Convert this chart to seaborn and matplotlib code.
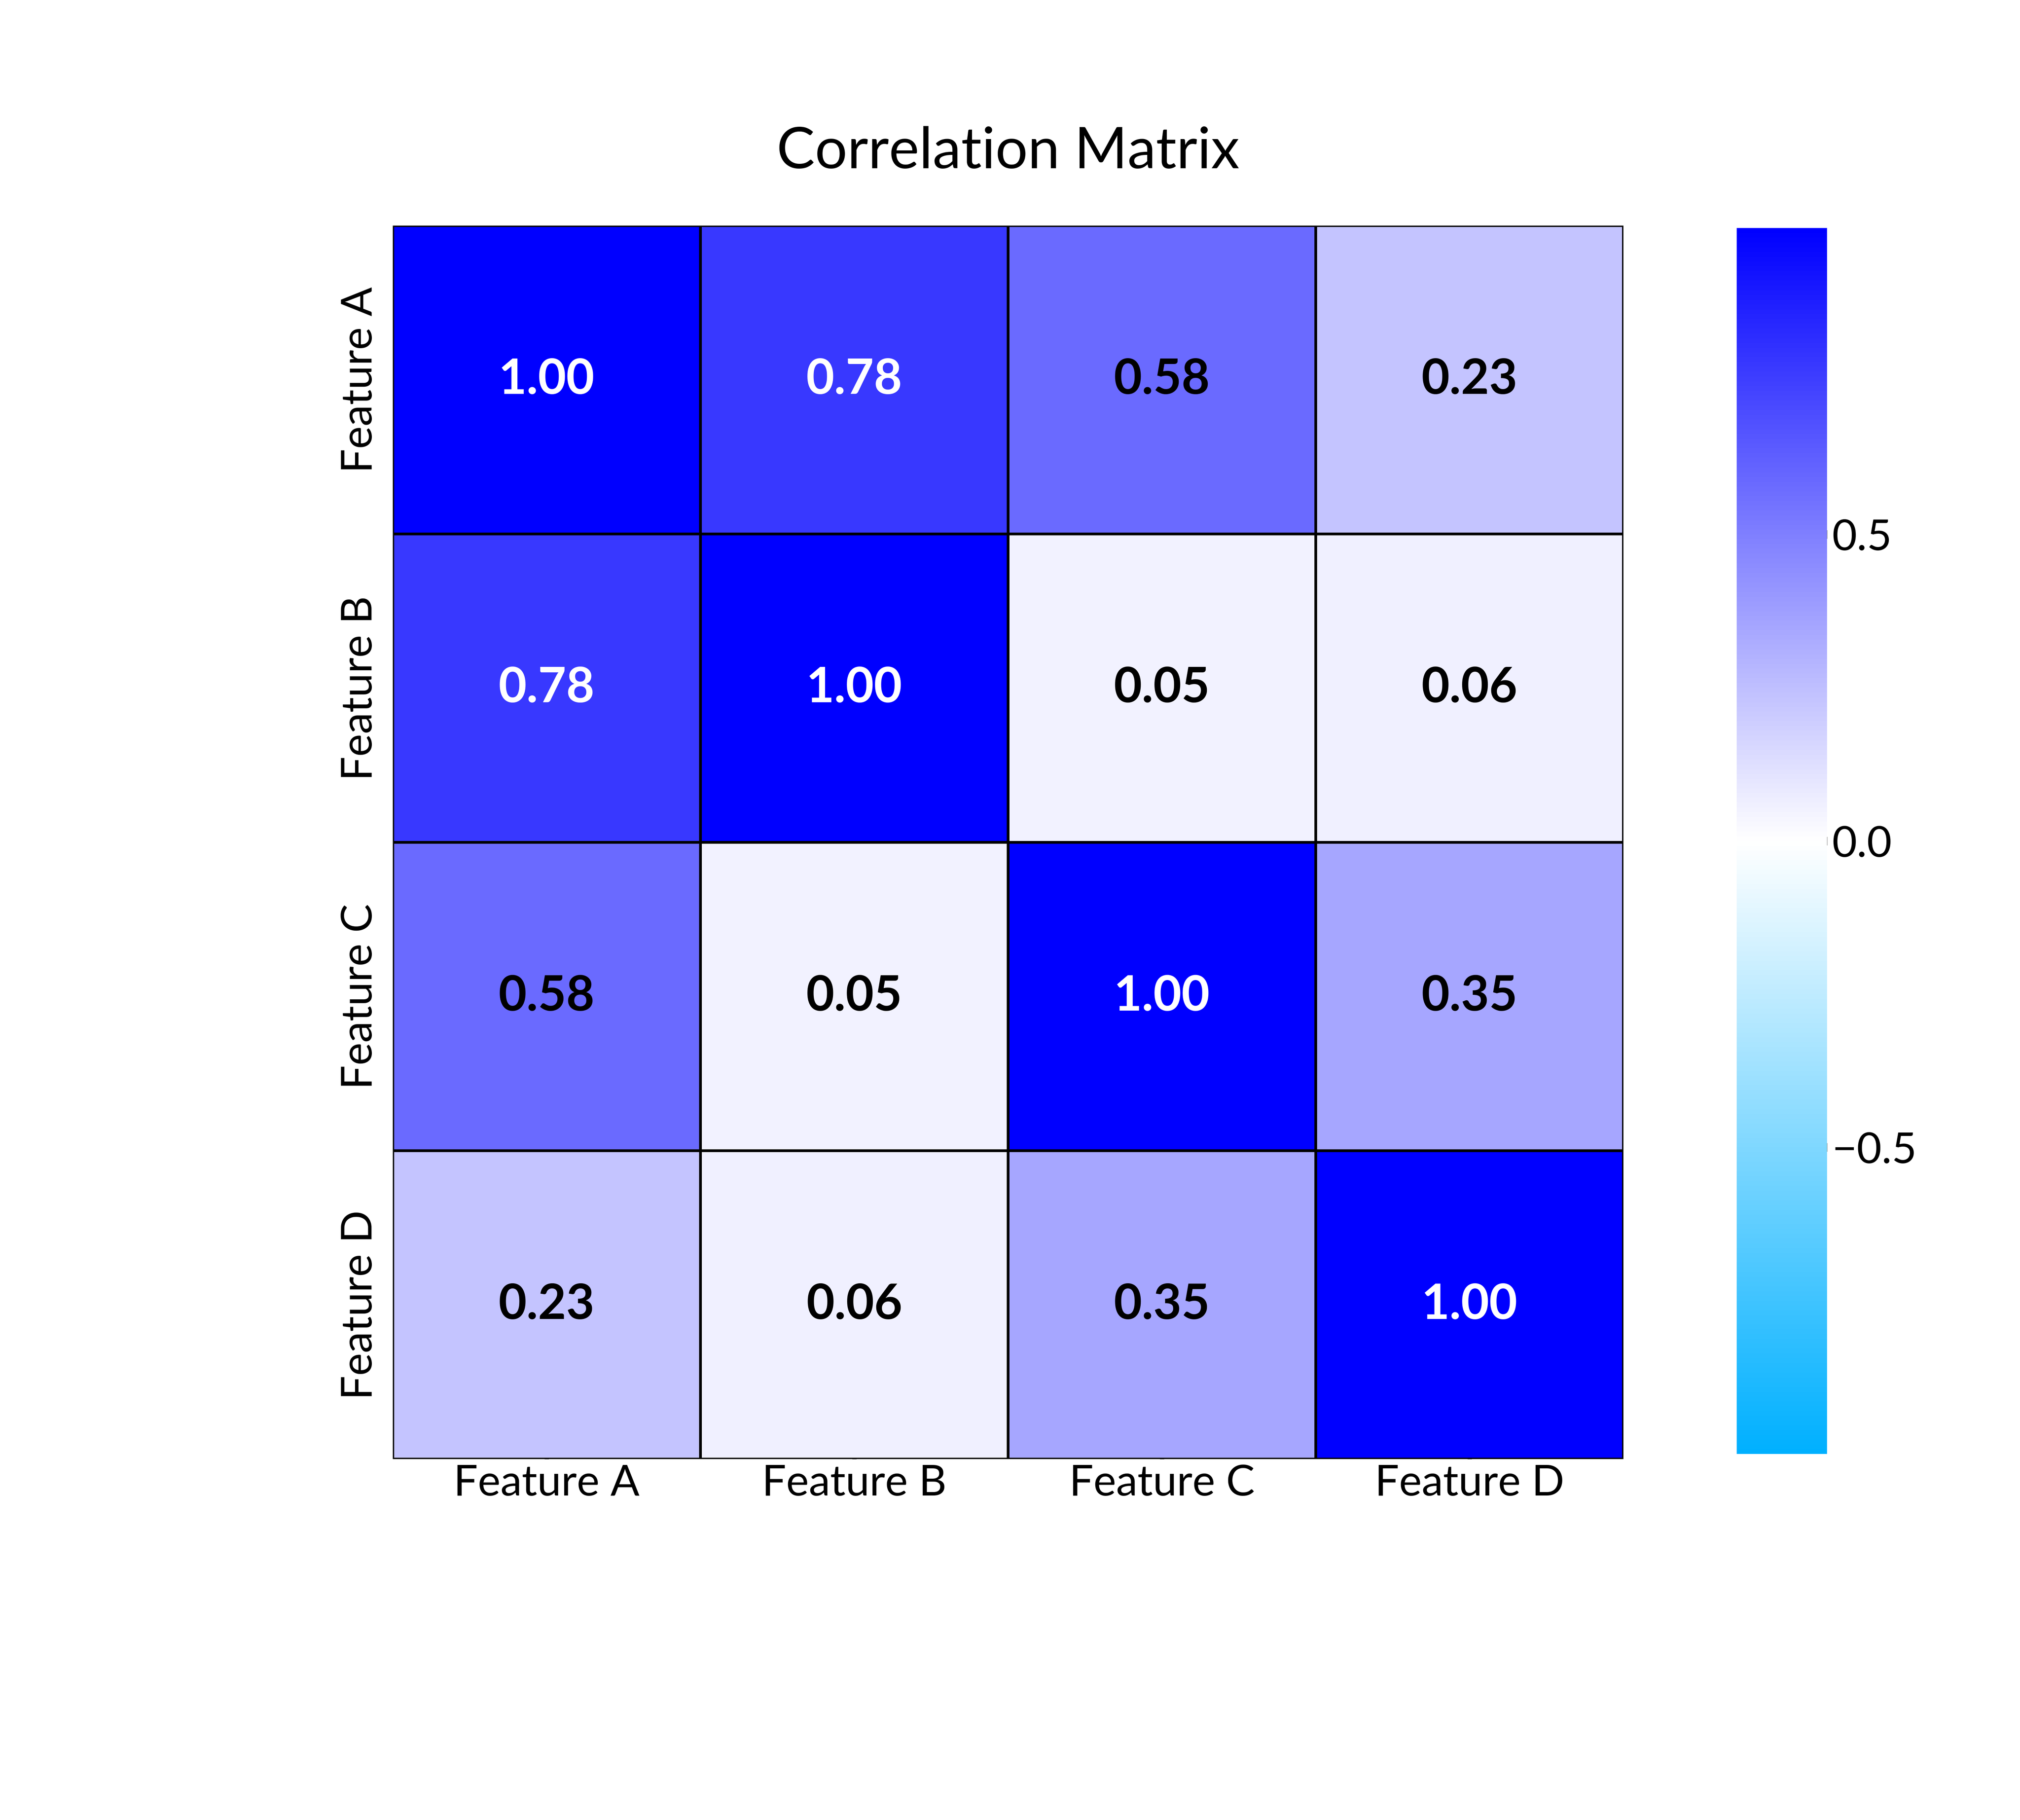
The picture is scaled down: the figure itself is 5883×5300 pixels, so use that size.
import numpy as np
import pandas as pd
import matplotlib
matplotlib.use("Agg")
import matplotlib.pyplot as plt
import seaborn as sns
from matplotlib.colors import LinearSegmentedColormap

# --- Data ---
features = ["Feature A", "Feature B", "Feature C", "Feature D"]
row_a = [1.00, 0.78, 0.58, 0.23]
row_b = [0.78, 1.00, 0.05, 0.06]
row_c = [0.58, 0.05, 1.00, 0.35]
row_d = [0.23, 0.06, 0.35, 1.00]

corr = pd.DataFrame([row_a, row_b, row_c, row_d], index=features, columns=features)

sns.set_theme(style="white")
plt.rcParams['font.family'] = ['Lato', 'DejaVu Sans']

cmap = LinearSegmentedColormap.from_list("sky_blue", ["#00b0ff", "#ffffff", "#0000ff"])

fig = plt.figure(figsize=(19.613, 17.667), dpi=300)
ax = fig.add_axes([1144 / 5884, 1 - 4249 / 5300, (4728 - 1144) / 5884, (4249 - 657) / 5300])
cax = fig.add_axes([5058 / 5884, 1 - 4234 / 5300, (5321 - 5058) / 5884, (4234 - 664) / 5300])

sns.heatmap(corr, ax=ax, cbar_ax=cax, cmap=cmap, vmin=-1, vmax=1,
            annot=True, fmt=".2f", linewidths=1.8, linecolor="black",
            annot_kws={"fontsize": 34, "fontweight": "bold"})

# only the darkest cells get white labels
for txt in ax.texts:
    txt.set_color("white" if float(txt.get_text()) > 0.7 else "black")

ax.set_title("Correlation Matrix", fontsize=40, color="black", pad=40)
ax.tick_params(axis="x", direction="in", length=8, width=3, colors="black", labelsize=30, bottom=True)
ax.tick_params(axis="y", labelsize=30, colors="black")
cax.set_yticks([-0.5, 0, 0.5])
cax.tick_params(direction="in", length=30, width=6, left=True, right=True, colors="black", labelsize=30)

fig.savefig("out.png", dpi=300, transparent=True)
